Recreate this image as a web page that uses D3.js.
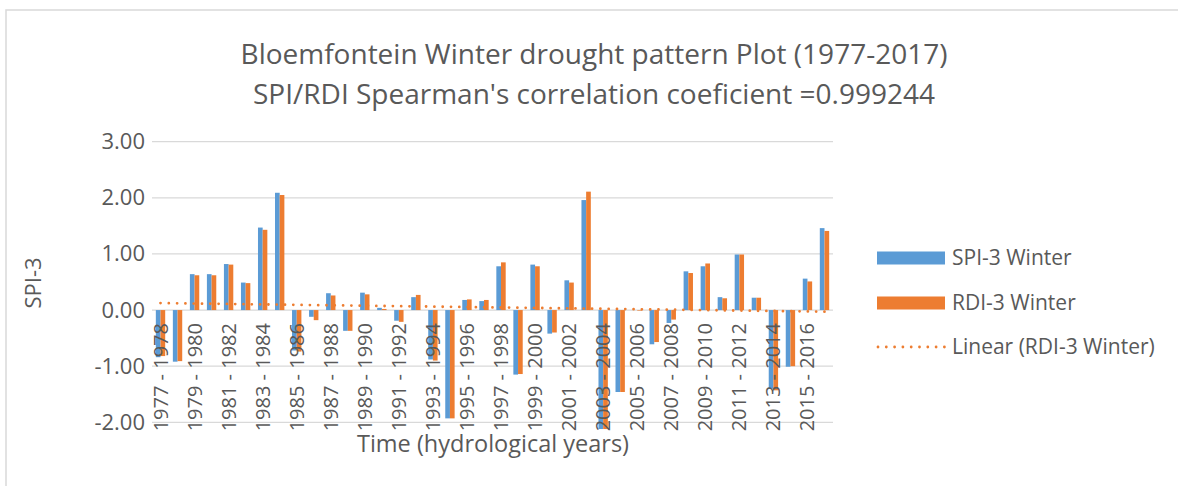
<!DOCTYPE html>
<html>
<head>
<meta charset="utf-8">
<script src="https://cdn.jsdelivr.net/npm/d3@7"></script>
<style>
  body { margin: 0; background: #fff; }
  svg { display: block; font-family: "Open Sans", "Noto Sans", sans-serif; }
</style>
</head>
<body>
<div id="chart"></div>
<script>
// hydrological years, one bar pair each
const years = d3.range(1977, 2017).map(y => `${y} - ${y + 1}`);

const spiValues = [-0.84, -0.92, 0.64, 0.64, 0.82, 0.49, 1.47, 2.09, -0.72, -0.12,
    0.30, -0.37, 0.31, 0.04, -0.19, 0.23, -0.88, -1.93, 0.18, 0.16,
    0.78, -1.15, 0.81, -0.42, 0.53, 1.96, -2.12, -1.46, 0.00, -0.61,
    -0.23, 0.69, 0.78, 0.23, 0.99, 0.22, -1.40, -1.01, 0.56, 1.46];

const rdiValues = [-0.82, -0.91, 0.62, 0.62, 0.81, 0.48, 1.43, 2.05, -0.74, -0.18,
    0.26, -0.37, 0.28, 0.02, -0.21, 0.27, -0.90, -1.93, 0.19, 0.18,
    0.85, -1.14, 0.78, -0.40, 0.49, 2.11, -2.12, -1.46, -0.01, -0.57,
    -0.17, 0.66, 0.83, 0.21, 0.99, 0.22, -1.43, -1.00, 0.51, 1.41];

const yTicks = [-2, -1, 0, 1, 2, 3];
const seriesNames = ["SPI-3 Winter", "RDI-3 Winter", "Linear (RDI-3 Winter)"];
const seriesColors = ["#5B9BD5", "#ED7D31"];

const W = 1178, H = 486;
const plot = {left: 152, right: 833, top: 141.7, bottom: 422.3};

const svg = d3.select("#chart")
    .append("svg")
    .attr("width", W)
    .attr("height", H);

// chart frame (cut off at right and bottom)
svg.append("rect")
    .attr("x", 6)
    .attr("y", 10)
    .attr("width", W + 10)
    .attr("height", H + 10)
    .attr("fill", "none")
    .attr("stroke", "#d9d9d9")
    .attr("stroke-width", 1.5);

// title
const title = svg.append("text")
    .attr("text-anchor", "middle")
    .attr("fill", "#595959")
    .style("font-size", "28px");
title.append("tspan").attr("x", 594).attr("y", 64).text("Bloemfontein Winter drought pattern Plot (1977-2017)");
title.append("tspan").attr("x", 594).attr("y", 104).text("SPI/RDI Spearman's correlation coeficient =0.999244");

const x = d3.scaleBand()
    .domain(years)
    .range([plot.left, plot.right])
    .paddingInner(0.45)
    .paddingOuter(0.225);

const xSub = d3.scaleBand()
    .domain([0, 1])
    .range([0, x.bandwidth()]);

const y = d3.scaleLinear()
    .domain([-2, 3])
    .range([plot.bottom, plot.top]);

// gridlines
svg.append("g")
    .selectAll("line")
    .data(yTicks)
    .enter()
    .append("line")
    .attr("x1", plot.left)
    .attr("x2", plot.right)
    .attr("y1", d => y(d))
    .attr("y2", d => y(d))
    .attr("stroke", "#d9d9d9")
    .attr("stroke-width", 1.3);

// y axis labels
const yAxis = svg.append("g")
    .attr("transform", `translate(${plot.left},0)`)
    .call(d3.axisLeft(y).tickValues(yTicks).tickFormat(d => d.toFixed(2)).tickSize(0).tickPadding(7));
yAxis.select(".domain").remove();
yAxis.selectAll("text")
    .attr("fill", "#595959")
    .style("font-size", "22px")
    .style("font-family", "'Open Sans', sans-serif");

// bars
const rows = years.map((yr, i) => ({year: yr, vals: [spiValues[i], rdiValues[i]]}));

const groups = svg.append("g")
    .selectAll("g")
    .data(rows)
    .enter()
    .append("g")
    .attr("transform", d => `translate(${x(d.year)},0)`);

groups.selectAll("rect")
    .data(d => d.vals.map((v, k) => ({k: k, v: v})))
    .enter()
    .append("rect")
    .attr("x", d => xSub(d.k))
    .attr("width", xSub.bandwidth())
    .attr("y", d => y(Math.max(0, d.v)))
    .attr("height", d => Math.abs(y(d.v) - y(0)))
    .attr("fill", d => seriesColors[d.k]);

// linear trend of RDI (least squares, like the spreadsheet does)
const n = rdiValues.length;
const idx = d3.range(1, n + 1);
const mx = d3.mean(idx), my = d3.mean(rdiValues);
const slope = d3.sum(idx, (t, i) => (t - mx) * (rdiValues[i] - my)) / d3.sum(idx, t => (t - mx) * (t - mx));
const icpt = my - slope * mx;
const trend = years.map((yr, i) => ({year: yr, v: icpt + slope * (i + 1)}));

svg.append("path")
    .datum(trend)
    .attr("fill", "none")
    .attr("stroke", "#ED7D31")
    .attr("stroke-width", 2.8)
    .attr("stroke-linecap", "round")
    .attr("stroke-dasharray", "0 8.3")
    .attr("d", d3.line()
        .x(d => x(d.year) + x.bandwidth() / 2)
        .y(d => y(d.v)));

// category labels (every other one), rotated, hanging below the zero line
const xAxis = svg.append("g")
    .attr("transform", `translate(0,${y(0)})`)
    .call(d3.axisBottom(x).tickValues(years.filter((d, i) => i % 2 === 0)).tickSize(0));
xAxis.select(".domain").remove();
xAxis.selectAll("text")
    .attr("fill", "#595959")
    .style("font-size", "20px")
    .style("font-family", "'Open Sans', sans-serif")
    .attr("text-anchor", "end")
    .attr("transform", "rotate(-90)")
    .attr("x", -13)
    .attr("y", 0)
    .attr("dy", "0.35em");

// axis titles
svg.append("text")
    .attr("transform", "translate(33,283) rotate(-90)")
    .attr("text-anchor", "middle")
    .attr("dy", "0.35em")
    .attr("fill", "#595959")
    .style("font-size", "22px")
    .text("SPI-3");

svg.append("text")
    .attr("x", 493)
    .attr("y", 452)
    .attr("text-anchor", "middle")
    .attr("fill", "#595959")
    .style("font-size", "23.5px")
    .text("Time (hydrological years)");

// legend
const legend = svg.append("g");
const legendY = [258, 303, 347];

legend.selectAll("rect")
    .data(seriesColors)
    .enter()
    .append("rect")
    .attr("x", 877)
    .attr("y", (d, i) => legendY[i] - 6.5)
    .attr("width", 68)
    .attr("height", 13)
    .attr("fill", d => d);

legend.append("line")
    .attr("x1", 878)
    .attr("x2", 945)
    .attr("y1", legendY[2])
    .attr("y2", legendY[2])
    .attr("stroke", "#ED7D31")
    .attr("stroke-width", 2.8)
    .attr("stroke-linecap", "round")
    .attr("stroke-dasharray", "0 8.3");

legend.selectAll("text")
    .data(seriesNames)
    .enter()
    .append("text")
    .attr("x", 952)
    .attr("y", (d, i) => legendY[i])
    .attr("dy", "0.35em")
    .attr("fill", "#595959")
    .style("font-size", "21px")
    .text(d => d);
</script>
</body>
</html>
